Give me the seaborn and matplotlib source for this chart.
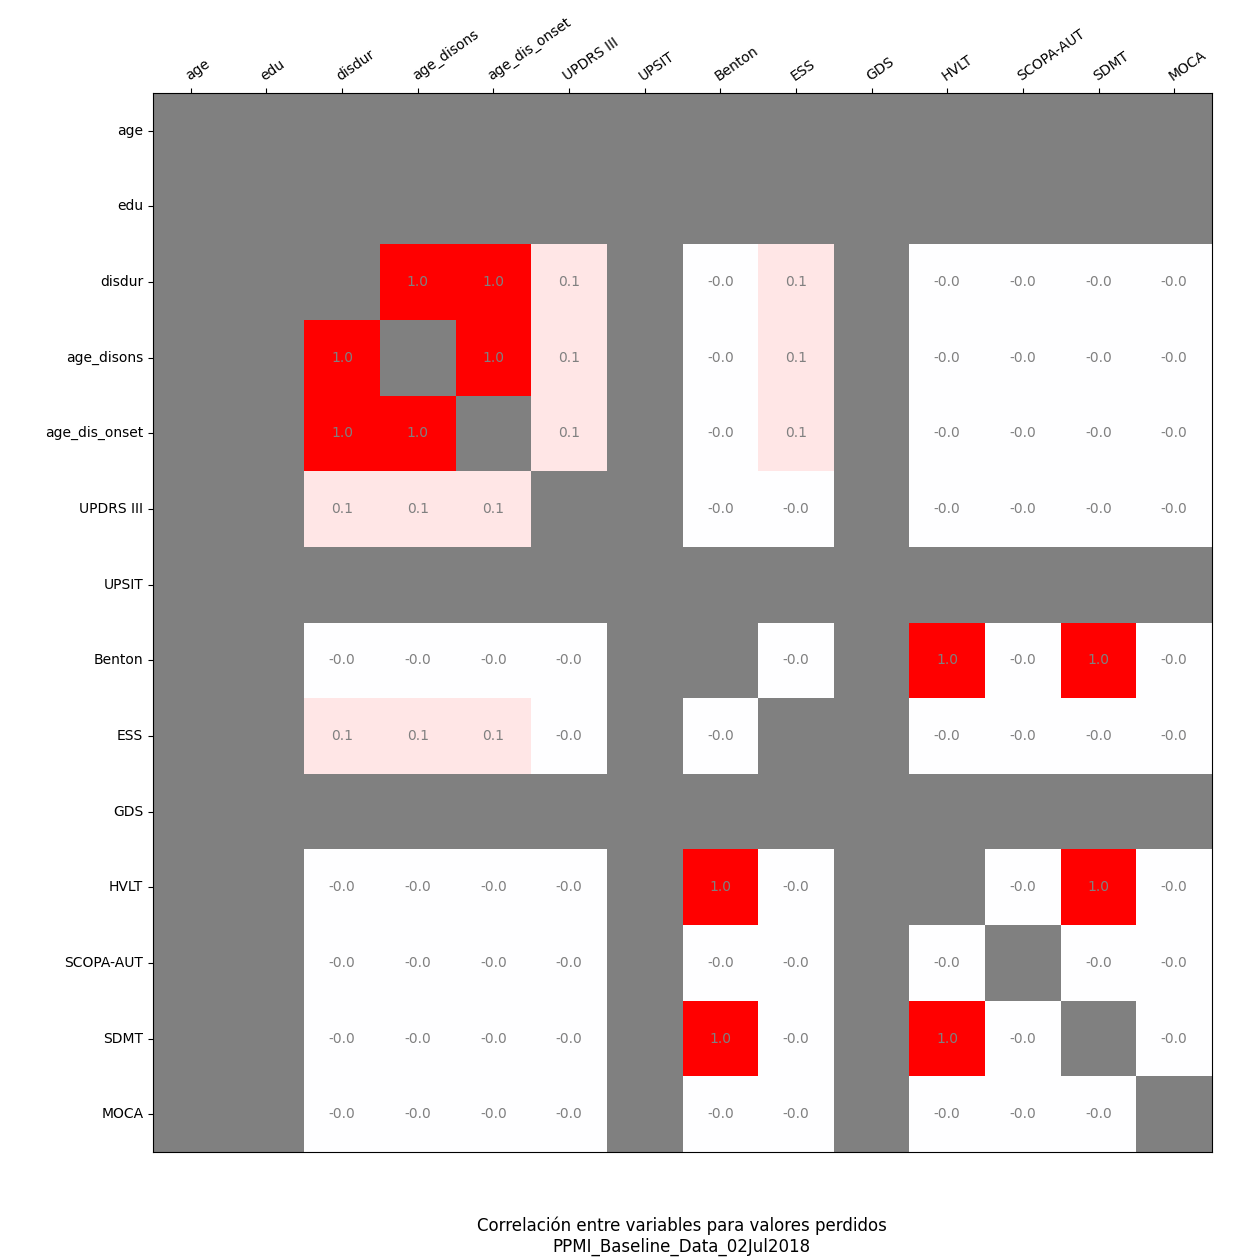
import numpy as np
import pandas as pd
import matplotlib
matplotlib.use("Agg")
import matplotlib.pyplot as plt
import seaborn as sns

# variables del heatmap
variables = ['age', 'edu', 'disdur', 'age_disons', 'age_dis_onset', 'UPDRS III',
             'UPSIT', 'Benton', 'ESS', 'GDS', 'HVLT', 'SCOPA-AUT', 'SDMT', 'MOCA']

# filas con valores (NaN = celda gris)
n = np.nan
z = -0.003  # se muestra como -0.0
row_age = [n] * 14
row_edu = [n] * 14
row_disdur = [n, n, n, 1.0, 1.0, 0.1, n, z, 0.1, n, z, z, z, z]
row_age_disons = [n, n, 1.0, n, 1.0, 0.1, n, z, 0.1, n, z, z, z, z]
row_age_dis_onset = [n, n, 1.0, 1.0, n, 0.1, n, z, 0.1, n, z, z, z, z]
row_updrs = [n, n, 0.1, 0.1, 0.1, n, n, z, z, n, z, z, z, z]
row_upsit = [n] * 14
row_benton = [n, n, z, z, z, z, n, n, z, n, 1.0, z, 1.0, z]
row_ess = [n, n, 0.1, 0.1, 0.1, z, n, z, n, n, z, z, z, z]
row_gds = [n] * 14
row_hvlt = [n, n, z, z, z, z, n, 1.0, z, n, n, z, 1.0, z]
row_scopa = [n, n, z, z, z, z, n, z, z, n, z, n, z, z]
row_sdmt = [n, n, z, z, z, z, n, 1.0, z, n, 1.0, z, n, z]
row_moca = [n, n, z, z, z, z, n, z, z, n, z, z, z, n]

corr = pd.DataFrame([row_age, row_edu, row_disdur, row_age_disons, row_age_dis_onset,
                     row_updrs, row_upsit, row_benton, row_ess, row_gds, row_hvlt,
                     row_scopa, row_sdmt, row_moca],
                    index=variables, columns=variables)

fig = plt.figure(figsize=(12.6, 12.6), dpi=100)
ax = fig.add_axes([153 / 1260, 1 - 1152 / 1260, (1212 - 153) / 1260, (1152 - 93) / 1260])
ax.set_facecolor('#808080')

sns.heatmap(corr, ax=ax, cmap='bwr', vmin=-1, vmax=1, cbar=False,
            annot=True, fmt='.1f', annot_kws={'color': 'gray', 'fontsize': 10})

for s in ax.spines.values():
    s.set_visible(True)
    s.set_color('black')

ax.xaxis.tick_top()
ax.set_xticklabels(variables, rotation=35, ha='left', rotation_mode='anchor', fontsize=10)
ax.set_yticklabels(variables, rotation=0, fontsize=10)
ax.set_xlabel('')
ax.set_ylabel('')

fig.text(0.541, 1 - 1236 / 1260, 'Correlación entre variables para valores perdidos\nPPMI_Baseline_Data_02Jul2018',
         ha='center', va='center', fontsize=12)

plt.savefig('out.png', dpi=100)
